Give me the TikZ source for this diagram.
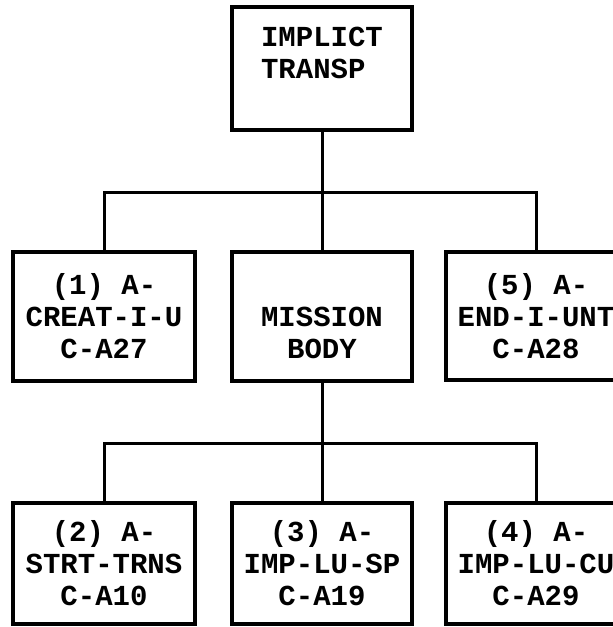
\documentclass[tikz,border=0pt]{standalone}
\usepackage{fontspec}
\setmonofont{Liberation Mono}
\begin{document}
\begin{tikzpicture}[x=1pt,y=-1pt,
  box/.style={draw=black, line width=3.6pt, rectangle, minimum width=180pt,
    inner sep=0pt, align=center, font=\ttfamily\bfseries\fontsize{29}{32}\selectfont},
  link/.style={draw=black, line width=3pt}]
\useasboundingbox (0,0) rectangle (613,627);
\clip (0,0) rectangle (613,627);
\node[box, minimum height=123pt, align=left] (top) at (322,68.5) {IMPLICT\\TRANSP\\\mbox{}};
\node[box, minimum width=182pt, minimum height=129pt] (b1) at (104,316.5) {(1) A-\\CREAT-I-U\\C-A27};
\node[box, minimum height=129pt] (b2) at (322,316.5) {\vphantom{(}\\MISSION\\BODY};
\node[box, minimum height=128pt] (b3) at (536,316) {(5) A-\\END-I-UNT\\C-A28};
\node[box, minimum width=182pt, minimum height=121pt] (c1) at (104,563.5) {(2) A-\\STRT-TRNS\\C-A10};
\node[box, minimum height=121pt] (c2) at (322,563.5) {(3) A-\\IMP-LU-SP\\C-A19};
\node[box, minimum height=121pt] (c3) at (536,563.5) {(4) A-\\IMP-LU-CU\\C-A29};
\coordinate (j1) at (322,192);
\coordinate (j2) at (322,443);
\draw[link] (top.south) -- (j1);
\draw[link] (j1) -| (b1.north);
\draw[link] (j1) -| (b3.north);
\draw[link] (j1) -- (b2.north);
\draw[link] (b2.south) -- (j2);
\draw[link] (j2) -| (c1.north);
\draw[link] (j2) -| (c3.north);
\draw[link] (j2) -- (c2.north);
\end{tikzpicture}
\end{document}
